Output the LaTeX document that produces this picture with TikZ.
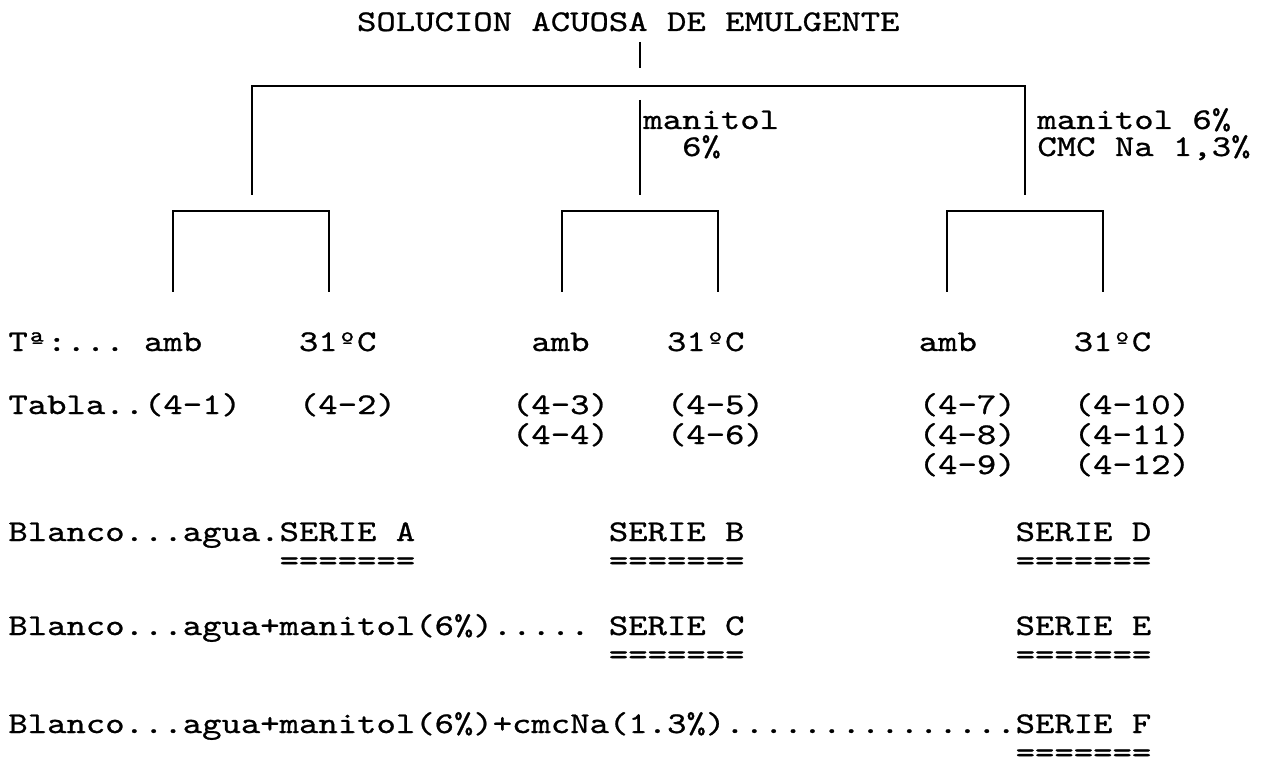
\documentclass[tikz,border=0pt]{standalone}
\usepackage{fontspec}
\setmonofont[FakeStretch=1.226,FakeBold=0.8]{lmmono10-regular.otf}
\def\w{19.37}
\begin{document}
\begin{tikzpicture}[x=0.5pt,y=-0.5pt,
  txt/.style={anchor=base west,inner sep=0pt,font=\ttfamily\fontsize{15.05pt}{15pt}\selectfont},
  rama/.style={line width=1pt}]
\useasboundingbox (0,0) rectangle (1261,764);

% Solucion
\node[txt] (sol) at ({8+18*\w},31) {SOLUCION ACUOSA DE EMULGENTE};
\coordinate (S1) at (640,42);
\coordinate (S2) at (640,68);
\draw[rama] (S1) -- (S2);

% Ramas
\coordinate (A) at (252,86);
\coordinate (B) at (640,100);
\coordinate (C) at (1025,86);
\coordinate (P1) at (252,195);
\coordinate (P2) at (640,195);
\coordinate (P3) at (1025,195);
\draw[rama] (P1) -- (A) -- (C) -- (P3);
\draw[rama] (B) -- (P2);

% Aditivos
\node[txt] (man1) at (643,129) {manitol};
\node[txt] (man2) at (643,156) {~~6\%};
\node[txt] (cmc1) at (1037,129) {manitol 6\%};
\node[txt] (cmc2) at (1037,156) {CMC Na 1,3\%};

% Temperaturas
\foreach \n/\c in {1/251,2/639.5,3/1025}{
  \coordinate (T\n a) at ({\c-78},292);
  \coordinate (T\n b) at ({\c-78},211);
  \coordinate (T\n c) at ({\c+78},211);
  \coordinate (T\n d) at ({\c+78},292);
  \draw[rama] (T\n a) -- (T\n b) -- (T\n c) -- (T\n d);
}
\node[txt] (ta) at (8,351) {Tª:... amb};
\node[txt] (t1) at ({8+15*\w},351) {31ºC};
\node[txt] (t2) at ({8+27*\w},351) {amb};
\node[txt] (t3) at ({8+34*\w},351) {31ºC};
\node[txt] (t4) at ({8+47*\w},351) {amb};
\node[txt] (t5) at ({8+55*\w},351) {31ºC};

% Tablas
\node[txt] (tab1) at (8,414) {Tabla..(4-1)};
\node[txt] (tab2) at ({8+15*\w},414) {(4-2)};
\foreach \i/\k/\r in {3/26/0,4/26/1,5/34/0,6/34/1,7/47/0,8/47/1,9/47/2,10/55/0,11/55/1,12/55/2}
  \node[txt] (tab\i) at ({8+\k*\w},{414+30*\r}) {(4-\i)};

% Series
\node[txt] (bl1) at (8,541) {Blanco...agua.};
\node[txt] (bl2) at (8,635) {Blanco...agua+manitol(6\%).....};
\node[txt] (bl3) at (8,733) {Blanco...agua+manitol(6\%)+cmcNa(1.3\%)...............};
\node[txt] (serA) at ({8+14*\w},541) {SERIE A};
\node[txt] (serB) at ({8+31*\w},541) {SERIE B};
\node[txt] (serD) at ({8+52*\w},541) {SERIE D};
\node[txt] (serC) at ({8+31*\w},635) {SERIE C};
\node[txt] (serE) at ({8+52*\w},635) {SERIE E};
\node[txt] (serF) at ({8+52*\w},733) {SERIE F};
\foreach \s in {A,B,C,D,E,F}
  \node[txt,yshift=-14.5pt] (eq\s) at (ser\s.base west) {=======};
\end{tikzpicture}
\end{document}
